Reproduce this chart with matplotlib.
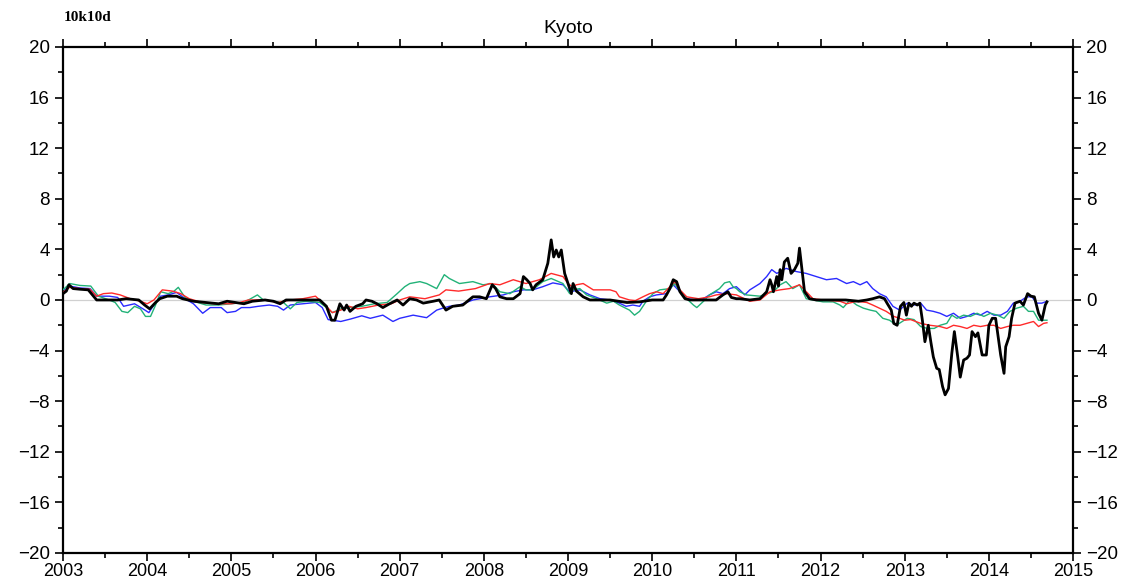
import matplotlib
matplotlib.use("Agg")
import matplotlib.pyplot as plt
from matplotlib.ticker import MultipleLocator

# --- data (year, value) ---
black_t = [2003.00, 2003.04, 2003.07, 2003.12, 2003.20, 2003.30, 2003.35, 2003.40, 2003.65, 2003.75,
           2003.90, 2003.97, 2004.03, 2004.10, 2004.15, 2004.24, 2004.35, 2004.42, 2004.55, 2004.70,
           2004.85, 2004.95, 2005.05, 2005.15, 2005.25, 2005.40, 2005.50, 2005.58, 2005.65, 2005.80,
           2005.95, 2006.05, 2006.13, 2006.19, 2006.23, 2006.29, 2006.34, 2006.37, 2006.41, 2006.48,
           2006.56, 2006.60, 2006.67, 2006.73, 2006.80, 2006.88, 2006.97, 2007.04, 2007.12, 2007.20,
           2007.28, 2007.40, 2007.47, 2007.55, 2007.63, 2007.75, 2007.87, 2007.95, 2008.03, 2008.10,
           2008.14, 2008.19, 2008.27, 2008.35, 2008.43, 2008.47, 2008.51, 2008.55, 2008.58, 2008.62,
           2008.70, 2008.76, 2008.80, 2008.83, 2008.86, 2008.89, 2008.92, 2008.96, 2009.00, 2009.04,
           2009.06, 2009.10, 2009.18, 2009.26, 2009.50, 2009.70, 2009.85, 2010.00, 2010.13, 2010.17,
           2010.21, 2010.25, 2010.29, 2010.33, 2010.39, 2010.45, 2010.76, 2010.84, 2010.90, 2010.94,
           2011.00, 2011.04, 2011.16, 2011.28, 2011.36, 2011.40, 2011.42, 2011.44, 2011.48, 2011.50,
           2011.52, 2011.54, 2011.57, 2011.61, 2011.65, 2011.69, 2011.73, 2011.75, 2011.78, 2011.81,
           2011.87, 2011.95, 2012.30, 2012.45, 2012.55, 2012.62, 2012.70, 2012.76, 2012.79, 2012.84,
           2012.87, 2012.91, 2012.95, 2012.99, 2013.02, 2013.05, 2013.08, 2013.11, 2013.15, 2013.18,
           2013.21, 2013.24, 2013.28, 2013.31, 2013.34, 2013.38, 2013.41, 2013.45, 2013.48, 2013.52,
           2013.56, 2013.59, 2013.63, 2013.66, 2013.70, 2013.74, 2013.77, 2013.80, 2013.84, 2013.87,
           2013.92, 2013.97, 2014.00, 2014.04, 2014.08, 2014.10, 2014.14, 2014.18, 2014.20, 2014.24,
           2014.27, 2014.31, 2014.37, 2014.41, 2014.46, 2014.50, 2014.54, 2014.59, 2014.63, 2014.67,
           2014.69]
black_v = [0.5, 0.7, 1.2, 0.9, 0.85, 0.8, 0.4, 0.0, 0.0, 0.1,
           0.0, -0.4, -0.7, -0.2, 0.1, 0.3, 0.3, 0.1, -0.1, -0.2,
           -0.3, -0.1, -0.2, -0.3, -0.1, 0.0, -0.1, -0.3, 0.0, 0.0,
           0.0, 0.0, -0.5, -1.6, -1.6, -0.3, -0.8, -0.4, -0.9, -0.5,
           -0.3, 0.0, -0.1, -0.3, -0.6, -0.3, 0.0, -0.4, 0.1, 0.0,
           -0.25, -0.1, 0.0, -0.8, -0.5, -0.4, 0.25, 0.25, 0.1, 1.2,
           0.9, 0.25, 0.1, 0.1, 0.5, 1.85, 1.6, 1.3, 0.8, 1.2,
           1.6, 2.9, 4.75, 3.4, 3.95, 3.4, 3.95, 2.1, 1.3, 0.5,
           1.3, 0.7, 0.25, 0.0, 0.0, -0.2, -0.15, 0.0, 0.0, 0.4,
           0.9, 1.6, 1.45, 0.65, 0.1, 0.0, 0.0, 0.4, 0.65, 0.2,
           0.1, 0.1, 0.0, 0.1, 0.65, 1.6, 1.2, 0.65, 1.85, 1.1,
           2.4, 1.6, 3.0, 3.3, 2.1, 2.4, 2.9, 4.1, 2.4, 0.65,
           0.1, 0.0, 0.0, -0.1, 0.0, 0.1, 0.25, 0.1, -0.25, -0.8,
           -1.85, -2.0, -0.5, -0.2, -1.2, -0.25, -0.5, -0.25, -0.4, -0.25,
           -1.6, -3.3, -2.0, -3.3, -4.5, -5.4, -5.5, -6.85, -7.5, -7.0,
           -4.2, -2.5, -4.5, -6.1, -4.75, -4.6, -4.35, -2.5, -2.9, -2.6,
           -4.35, -4.35, -2.0, -1.45, -1.45, -2.4, -4.35, -5.8, -3.7, -2.9,
           -1.45, -0.25, -0.1, -0.4, 0.5, 0.3, 0.25, -1.05, -1.6, -0.4,
           -0.15]

red_t = [2003.00, 2003.08, 2003.20, 2003.32, 2003.40, 2003.48, 2003.58, 2003.68, 2003.80, 2003.92,
         2004.00, 2004.08, 2004.18, 2004.30, 2004.40, 2004.50, 2004.65, 2004.80, 2005.00, 2005.10,
         2005.20, 2005.40, 2005.55, 2005.70, 2005.85, 2006.00, 2006.13, 2006.20, 2006.30, 2006.40,
         2006.50, 2006.60, 2006.75, 2006.90, 2007.00, 2007.12, 2007.30, 2007.47, 2007.55, 2007.70,
         2007.90, 2008.07, 2008.19, 2008.35, 2008.50, 2008.66, 2008.80, 2008.94, 2009.00, 2009.05,
         2009.10, 2009.18, 2009.30, 2009.50, 2009.57, 2009.61, 2009.73, 2009.80, 2009.89, 2009.97,
         2010.05, 2010.13, 2010.21, 2010.27, 2010.33, 2010.41, 2010.55, 2010.68, 2010.76, 2010.88,
         2011.00, 2011.16, 2011.28, 2011.40, 2011.52, 2011.63, 2011.75, 2011.81, 2011.91, 2012.03,
         2012.23, 2012.31, 2012.43, 2012.55, 2012.62, 2012.70, 2012.78, 2012.87, 2012.94, 2013.00,
         2013.07, 2013.19, 2013.30, 2013.42, 2013.50, 2013.58, 2013.66, 2013.74, 2013.82, 2013.90,
         2013.98, 2014.06, 2014.14, 2014.22, 2014.29, 2014.37, 2014.45, 2014.53, 2014.59, 2014.65,
         2014.69]
red_v = [0.6, 1.0, 0.9, 0.85, 0.3, 0.5, 0.55, 0.4, 0.1, -0.1,
         -0.3, 0.0, 0.8, 0.7, 0.5, 0.1, -0.2, -0.3, -0.3, -0.2,
         0.0, 0.0, -0.2, 0.0, 0.1, 0.3, -0.5, -1.0, -0.8, -0.5,
         -0.7, -0.6, -0.4, -0.3, 0.0, 0.25, 0.1, 0.4, 0.8, 0.7,
         0.9, 1.3, 1.2, 1.6, 1.3, 1.6, 2.1, 1.85, 1.3, 1.05,
         1.2, 1.3, 0.8, 0.8, 0.65, 0.25, 0.0, -0.05, 0.25, 0.5,
         0.65, 0.5, 1.05, 1.45, 0.8, 0.25, 0.1, 0.25, 0.4, 0.5,
         0.4, -0.1, 0.0, 0.65, 0.8, 0.9, 1.2, 0.8, 0.1, 0.0,
         -0.1, -0.3, -0.1, -0.2, -0.4, -0.65, -0.9, -1.3, -1.45, -1.6,
         -1.55, -1.85, -2.0, -2.1, -2.25, -2.0, -2.1, -2.25, -2.0, -2.1,
         -2.0, -2.0, -2.25, -2.1, -2.0, -2.0, -1.85, -1.7, -2.1, -1.85,
         -1.8]

green_t = [2003.00, 2003.08, 2003.20, 2003.33, 2003.42, 2003.55, 2003.62, 2003.70, 2003.77, 2003.85,
           2003.92, 2003.98, 2004.04, 2004.10, 2004.16, 2004.25, 2004.32, 2004.37, 2004.45, 2004.55,
           2004.70, 2004.85, 2005.00, 2005.15, 2005.31, 2005.38, 2005.50, 2005.62, 2005.70, 2005.78,
           2005.90, 2006.05, 2006.13, 2006.20, 2006.30, 2006.40, 2006.55, 2006.70, 2006.85, 2006.97,
           2007.06, 2007.12, 2007.24, 2007.32, 2007.44, 2007.53, 2007.59, 2007.71, 2007.87, 2007.99,
           2008.10, 2008.19, 2008.31, 2008.43, 2008.50, 2008.58, 2008.70, 2008.80, 2008.94, 2009.02,
           2009.06, 2009.14, 2009.22, 2009.34, 2009.46, 2009.54, 2009.61, 2009.73, 2009.79, 2009.85,
           2009.93, 2010.01, 2010.09, 2010.21, 2010.27, 2010.33, 2010.41, 2010.49, 2010.53, 2010.61,
           2010.68, 2010.80, 2010.86, 2010.92, 2010.96, 2011.00, 2011.04, 2011.12, 2011.28, 2011.36,
           2011.44, 2011.52, 2011.59, 2011.67, 2011.75, 2011.83, 2011.91, 2012.03, 2012.15, 2012.23,
           2012.27, 2012.35, 2012.43, 2012.51, 2012.59, 2012.66, 2012.74, 2012.82, 2012.90, 2012.97,
           2013.03, 2013.11, 2013.19, 2013.27, 2013.35, 2013.42, 2013.50, 2013.56, 2013.62, 2013.70,
           2013.78, 2013.86, 2013.94, 2014.02, 2014.10, 2014.18, 2014.25, 2014.33, 2014.41, 2014.47,
           2014.53, 2014.59, 2014.69]
green_v = [0.8, 1.3, 1.15, 1.1, 0.3, 0.0, -0.2, -0.9, -1.0, -0.5,
           -0.7, -1.3, -1.3, -0.4, 0.65, 0.5, 0.7, 1.0, 0.2, -0.1,
           -0.4, -0.4, -0.3, -0.2, 0.4, 0.0, -0.1, -0.2, -0.7, -0.2,
           -0.1, -0.2, -0.6, -1.0, -0.7, -0.6, -0.5, -0.3, -0.2, 0.5,
           1.05, 1.3, 1.45, 1.3, 0.9, 2.0, 1.7, 1.3, 1.45, 1.2,
           1.3, 0.65, 0.5, 1.05, 0.8, 0.8, 1.45, 1.7, 1.3, 0.5,
           0.8, 0.9, 0.4, 0.1, -0.25, -0.1, -0.4, -0.8, -1.2, -0.9,
           -0.1, 0.5, 0.8, 0.9, 1.3, 0.65, 0.1, -0.4, -0.6, -0.1,
           0.4, 0.9, 1.35, 1.45, 1.05, 0.9, 0.65, 0.4, 0.3, 0.5,
           0.65, 1.2, 1.45, 0.9, 1.2, 0.1, 0.0, -0.15, -0.15, -0.4,
           -0.6, 0.0, -0.4, -0.65, -0.8, -0.9, -1.45, -1.6, -2.0, -1.7,
           -1.45, -1.55, -2.1, -2.25, -2.25, -2.0, -1.85, -1.2, -1.45, -1.2,
           -1.3, -1.05, -1.3, -1.05, -1.2, -1.45, -0.9, -0.65, -0.5, -0.9,
           -0.9, -1.6, -1.6]

blue_t = [2003.00, 2003.08, 2003.20, 2003.32, 2003.40, 2003.55, 2003.65, 2003.72, 2003.85, 2003.95,
          2004.02, 2004.10, 2004.16, 2004.25, 2004.35, 2004.45, 2004.55, 2004.66, 2004.75, 2004.88,
          2004.95, 2005.05, 2005.12, 2005.22, 2005.32, 2005.45, 2005.55, 2005.62, 2005.70, 2005.85,
          2006.00, 2006.08, 2006.15, 2006.30, 2006.42, 2006.55, 2006.65, 2006.80, 2006.92, 2007.00,
          2007.16, 2007.32, 2007.44, 2007.51, 2007.59, 2007.71, 2007.87, 2007.95, 2008.07, 2008.23,
          2008.35, 2008.47, 2008.58, 2008.70, 2008.82, 2008.94, 2009.02, 2009.14, 2009.26, 2009.38,
          2009.50, 2009.61, 2009.69, 2009.77, 2009.85, 2009.89, 2009.97, 2010.05, 2010.17, 2010.25,
          2010.33, 2010.41, 2010.53, 2010.61, 2010.68, 2010.76, 2010.84, 2010.92, 2011.00, 2011.04,
          2011.10, 2011.16, 2011.28, 2011.36, 2011.42, 2011.48, 2011.59, 2011.71, 2011.83, 2011.95,
          2012.07, 2012.19, 2012.31, 2012.39, 2012.47, 2012.55, 2012.62, 2012.70, 2012.78, 2012.86,
          2012.94, 2013.03, 2013.11, 2013.19, 2013.26, 2013.34, 2013.42, 2013.50, 2013.58, 2013.66,
          2013.74, 2013.82, 2013.90, 2013.98, 2014.06, 2014.14, 2014.22, 2014.29, 2014.37, 2014.45,
          2014.51, 2014.57, 2014.63, 2014.69]
blue_v = [0.7, 1.1, 0.95, 0.9, 0.3, 0.3, 0.2, -0.5, -0.3, -0.7,
          -1.0, -0.2, 0.3, 0.4, 0.6, 0.1, -0.3, -1.05, -0.6, -0.6,
          -1.0, -0.9, -0.6, -0.6, -0.5, -0.4, -0.5, -0.8, -0.4, -0.3,
          -0.2, -0.6, -1.55, -1.7, -1.5, -1.25, -1.45, -1.2, -1.7, -1.45,
          -1.2, -1.4, -0.8, -0.65, -0.5, -0.4, 0.0, 0.1, 0.25, 0.4,
          0.65, 0.8, 0.8, 1.05, 1.35, 1.2, 0.65, 0.8, 0.4, 0.1,
          0.0, -0.25, -0.5, -0.4, -0.5, -0.1, 0.25, 0.4, 0.5, 1.2,
          0.65, 0.1, 0.0, 0.1, 0.4, 0.65, 0.5, 0.9, 1.05, 0.8,
          0.4, 0.8, 1.3, 1.85, 2.4, 2.1, 2.5, 2.25, 2.1, 1.85,
          1.6, 1.7, 1.3, 1.45, 1.2, 1.45, 0.9, 0.5, 0.25, -0.5,
          -0.8, -0.25, -0.4, -0.25, -0.8, -0.9, -1.05, -1.3, -1.05, -1.45,
          -1.3, -1.05, -1.2, -0.9, -1.2, -1.2, -0.9, -0.25, -0.1, 0.25,
          0.25, -0.25, -0.25, -0.1]

plt.rcParams['font.family'] = ['Liberation Sans', 'DejaVu Sans']

fig = plt.figure(figsize=(11.39, 5.8), dpi=100)
ax = fig.add_axes([0.0553, 0.0466, 0.8868, 0.8724])

ax.axhline(0, color="#d0d0d0", linewidth=0.9, zorder=1)
ax.plot(blue_t, blue_v, color="#2a2aff", linewidth=1.0, zorder=2)
ax.plot(green_t, green_v, color="#22b278", linewidth=1.0, zorder=3)
ax.plot(red_t, red_v, color="#ff2a2a", linewidth=1.0, zorder=4)
ax.plot(black_t, black_v, color="black", linewidth=2.0, zorder=5)

ax.set_xlim(2003, 2015)
ax.set_ylim(-20, 20)
ax.xaxis.set_major_locator(MultipleLocator(1))
ax.xaxis.set_minor_locator(MultipleLocator(0.5))
ax.yaxis.set_major_locator(MultipleLocator(4))
ax.yaxis.set_minor_locator(MultipleLocator(2))
ax.xaxis.set_major_formatter(plt.FuncFormatter(lambda v, p: f"{int(round(v))}"))

ax.tick_params(which="both", direction="out", top=True, right=True,
               labelright=True, width=1.2, labelsize=13.5)
ax.tick_params(which="major", length=6)
ax.tick_params(which="minor", length=3.5)
ax.tick_params(axis="x", which="major", pad=1, labelsize=13)
for s in ax.spines.values():
    s.set_linewidth(1.6)

ax.set_title("Kyoto", fontsize=14, pad=10)
fig.text(0.056, 0.958, "10k10d", fontsize=11, fontweight="bold",
         family="Liberation Serif", ha="left", va="bottom")

fig.savefig("out.png", dpi=100)
